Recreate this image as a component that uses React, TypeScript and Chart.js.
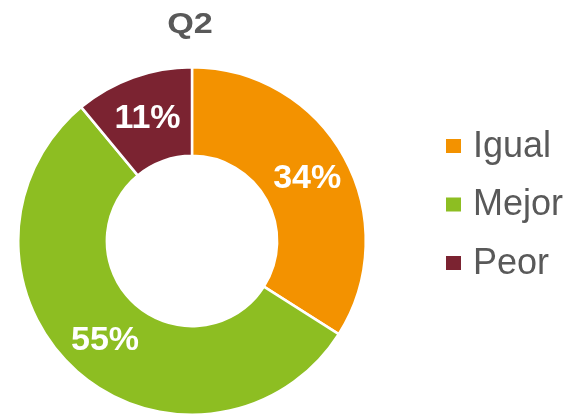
import React, { useEffect, useRef } from "react";
import { Chart, registerables } from "chart.js";

Chart.register(...registerables);

const categories = ["Igual", "Mejor", "Peor"];
const values = [34, 55, 11];
const valueLabels = ["34%", "55%", "11%"];
const colors = ["#F39200", "#8DBE22", "#7B2331"];
const title = "Q2";

const FONT = "'Liberation Sans', Arial, sans-serif";

const overlayPlugin = {
  id: "overlay",
  afterDatasetsDraw(chart: any) {
    const ctx = chart.ctx;
    const meta = chart.getDatasetMeta(0);
    ctx.save();
    ctx.fillStyle = "#FFFFFF";
    ctx.font = `bold 34px ${FONT}`;
    ctx.textAlign = "center";
    ctx.textBaseline = "middle";
    meta.data.forEach((arc: any, i: number) => {
      const { x, y, startAngle, endAngle, innerRadius, outerRadius } = arc.getProps(
        ["x", "y", "startAngle", "endAngle", "innerRadius", "outerRadius"],
        true
      );
      const mid = (startAngle + endAngle) / 2;
      const r = (innerRadius + outerRadius) / 2 + 2;
      ctx.fillText(valueLabels[i], x + Math.cos(mid) * r, y + Math.sin(mid) * r + 1);
    });
    // title (slightly widened like the reference)
    ctx.fillStyle = "#595959";
    ctx.font = `bold 29px ${FONT}`;
    ctx.save();
    ctx.translate(190, 25);
    ctx.scale(1.18, 1);
    ctx.fillText(title, 0, 0);
    ctx.restore();
    // legend
    ctx.textAlign = "left";
    ctx.font = `36px ${FONT}`;
    categories.forEach((c, i) => {
      const cy = 146 + i * 58.5;
      ctx.fillStyle = colors[i];
      ctx.fillRect(446, cy - 7, 15, 14);
      ctx.fillStyle = "#595959";
      ctx.fillText(c, 473, cy + 1);
    });
    ctx.restore();
  },
};

export default function App() {
  const ref = useRef<HTMLCanvasElement>(null);
  useEffect(() => {
    document.body.style.margin = "0";
    const chart = new Chart(ref.current!, {
      type: "doughnut",
      data: {
        labels: categories,
        datasets: [
          {
            data: values,
            backgroundColor: colors,
            borderColor: "#FFFFFF",
            borderWidth: 2.5,
            hoverOffset: 0,
          },
        ],
      },
      options: {
        animation: false,
        responsive: false,
        cutout: "49%",
        layout: { padding: { left: 17, right: 213, top: 66, bottom: 1 } },
        plugins: {
          legend: { display: false },
          tooltip: { enabled: false },
          title: { display: false },
        },
      },
      plugins: [overlayPlugin],
    });
    return () => chart.destroy();
  }, []);
  return (
    <div style={{ width: 580, height: 417, background: "#fff" }}>
      <canvas ref={ref} width={580} height={417} style={{ display: "block" }} />
    </div>
  );
}
